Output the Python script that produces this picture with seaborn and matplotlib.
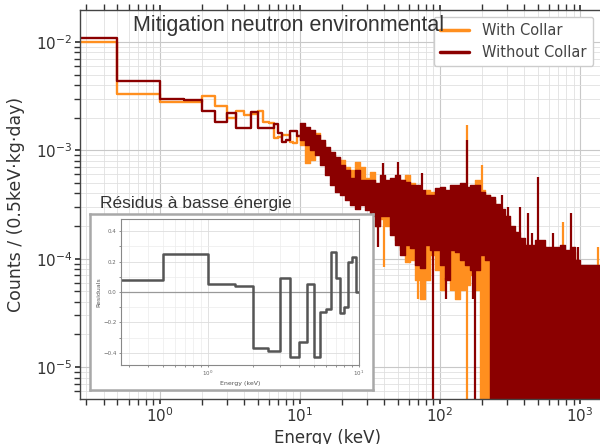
import matplotlib
matplotlib.use("Agg")
import matplotlib.pyplot as plt
import numpy as np
import pandas as pd
import seaborn as sns

# ---------------- data ----------------
series_names = ["With Collar", "Without Collar"]

# 0.5 keV bins, 0 - 10 keV (counts / (0.5 keV kg day))
low_edges = [0.0, 0.5, 1.0, 1.5, 2.0, 2.5, 3.0, 3.5, 4.0, 4.5, 5.0,
             5.5, 6.0, 6.5, 7.0, 7.5, 8.0, 8.5, 9.0, 9.5, 10.0]
without_low = [1.08e-2, 4.4e-3, 2.95e-3, 2.9e-3, 2.3e-3, 1.84e-3, 2.2e-3, 1.6e-3,
               1.6e-3, 2.25e-3, 1.6e-3, 1.6e-3, 1.6e-3, 1.75e-3, 1.45e-3, 1.2e-3,
               1.25e-3, 1.5e-3, 1.5e-3, 1.35e-3]
with_low = [9.94e-3, 3.3e-3, 2.79e-3, 2.78e-3, 3.14e-3, 2.56e-3, 1.99e-3, 2.29e-3,
            2.13e-3, 2.14e-3, 2.29e-3, 1.81e-3, 1.78e-3, 1.3e-3, 1.32e-3, 1.37e-3,
            1.38e-3, 1.2e-3, 1.16e-3, 1.35e-3]

# above 10 keV the 0.5 keV bins are too dense to resolve: envelope of the
# fluctuating histogram per energy band (upper / lower level, 0 = empty bins)
band_edges = [10.0, 10.9, 11.8, 12.8, 13.9, 15.1, 16.4, 17.8, 19.3, 21.0, 22.8,
              24.7, 26.8, 29.1, 31.6, 34.3, 37.3, 40.5, 43.9, 47.7, 51.8, 56.2,
              61.0, 66.3, 72.0, 78.1, 84.8, 92.1, 100, 109, 118, 128, 139, 151,
              164, 178, 193, 210, 228, 247, 268, 291, 316, 343, 373, 405, 439,
              477, 518, 562, 611, 663, 720, 781, 848, 921, 1000, 1086, 1179,
              1280, 1389]
without_hi = [1.79e-3, 1.64e-3, 1.54e-3, 1.38e-3, 1.25e-3, 1.07e-3, 9.6e-4, 8.7e-4,
              7.3e-4, 6.6e-4, 5.5e-4, 6.6e-4, 5.3e-4, 5.3e-4, 5.3e-4, 5.0e-4,
              5.9e-4, 5.3e-4, 5.5e-4, 5.9e-4, 5.3e-4, 5.1e-4, 4.8e-4, 4.8e-4,
              4.3e-4, 3.9e-4, 3.9e-4, 4.5e-4, 4.6e-4, 4.3e-4, 4.8e-4, 4.8e-4,
              5.0e-4, 4.6e-4, 4.8e-4, 4.8e-4, 4.1e-4, 3.9e-4, 3.7e-4, 3.2e-4,
              2.9e-4, 2.5e-4, 2.0e-4, 1.76e-4, 1.55e-4, 1.34e-4, 1.34e-4, 1.49e-4,
              1.49e-4, 1.28e-4, 1.28e-4, 1.28e-4, 1.34e-4, 1.2e-4, 1.28e-4, 9.7e-5,
              8.7e-5, 8.7e-5, 8.7e-5, 8.7e-5]
without_lo = [1.25e-3, 1.12e-3, 1.0e-3, 9.0e-4, 7.3e-4, 5.9e-4, 4.8e-4, 4.1e-4,
              3.9e-4, 3.5e-4, 3.1e-4, 2.9e-4, 3.1e-4, 2.8e-4, 2.5e-4, 2.0e-4,
              2.5e-4, 2.5e-4, 1.65e-4, 1.34e-4, 1.08e-4, 1.34e-4, 1.25e-4, 8.7e-5,
              8.2e-5, 1.34e-4, 1.2e-4, 1.2e-4, 8.7e-5, 6.3e-5, 1.2e-4, 1.15e-4,
              9.7e-5, 8.7e-5, 7.9e-5, 7.9e-5, 1.08e-4, 9.7e-5, 0, 0,
              0, 0, 0, 0, 0, 0, 0, 0, 0, 0, 0, 0, 0, 0, 0, 0, 0, 0, 0, 0]
with_hi = [1.38e-3, 1.25e-3, 1.3e-3, 1.44e-3, 1.17e-3, 1.0e-3, 9.0e-4, 8.5e-4,
           8.1e-4, 7.0e-4, 6.6e-4, 7.8e-4, 7.0e-4, 5.5e-4, 6.3e-4, 4.8e-4,
           4.8e-4, 4.8e-4, 5.1e-4, 4.8e-4, 5.3e-4, 5.9e-4, 5.0e-4, 4.1e-4,
           3.9e-4, 4.3e-4, 4.1e-4, 4.1e-4, 4.3e-4, 3.9e-4, 4.3e-4, 4.5e-4,
           4.8e-4, 4.3e-4, 4.3e-4, 5.3e-4, 4.3e-4, 3.9e-4, 3.5e-4, 3.0e-4,
           2.6e-4, 2.2e-4, 1.8e-4, 1.6e-4, 1.4e-4, 1.25e-4, 1.2e-4, 1.3e-4,
           1.3e-4, 1.15e-4, 1.15e-4, 1.15e-4, 1.2e-4, 1.1e-4, 1.15e-4, 8.7e-5,
           7.9e-5, 7.9e-5, 7.9e-5, 7.9e-5]
with_lo = [1.12e-3, 7.6e-4, 8.1e-4, 1.0e-3, 8.1e-4, 7.3e-4, 5.9e-4, 5.3e-4,
           4.8e-4, 4.3e-4, 3.9e-4, 3.5e-4, 3.5e-4, 3.1e-4, 2.8e-4, 2.0e-4,
           2.3e-4, 2.0e-4, 1.84e-4, 1.49e-4, 1.2e-4, 9.3e-5, 9.7e-5, 6.3e-5,
           4.2e-5, 6.3e-5, 1.08e-4, 7.9e-5, 5.1e-5, 7.9e-5, 5.1e-5, 4.2e-5,
           5.1e-5, 5.7e-5, 7.1e-5, 5.1e-5, 0, 0, 0, 0,
           0, 0, 0, 0, 0, 0, 0, 0, 0, 0, 0, 0, 0, 0, 0, 0, 0, 0, 0, 0]

# isolated single-bin peaks (keV, counts)
without_peak_E = [39, 50, 75, 105, 157, 248, 276, 305, 373, 425, 455, 500, 640, 860, 960]
without_peak_v = [7.6e-4, 7.8e-4, 6.2e-4, 4.6e-4, 1.25e-3, 3.5e-4, 3.87e-4, 3.0e-4,
                  3.0e-4, 2.64e-4, 1.72e-4, 5.67e-4, 1.72e-4, 2.64e-4, 1.28e-4]
with_peak_E = [157, 201, 755, 1340]
with_peak_v = [1.7e-3, 7.3e-4, 2.18e-4, 1.28e-4]
# isolated low / empty bins (keV, counts)
without_dip_E = [36, 89, 110, 172, 177]
without_dip_v = [1.28e-4, 0, 4.2e-5, 4.2e-5, 0]
with_dip_E = [40, 70, 157]
with_dip_v = [8.4e-5, 4.2e-5, 0]

# inset: residuals (without - with) / without, 0.5 keV bins 0 - 10 keV
res_edges = low_edges
residuals = [0.08, 0.25, 0.055, 0.04, -0.365, -0.39, 0.095, -0.43, -0.33, 0.05,
             -0.43, -0.13, -0.11, 0.26, 0.09, -0.14, -0.10, 0.20, 0.23, 0.0]

# ---------------- style ----------------
ORANGE = "#FF8F1F"
DARKRED = "#8B0000"
sns.set_theme(style="ticks")
plt.rcParams["font.family"] = ["DejaVu Sans"]

fig = plt.figure(figsize=(6.0, 4.44), dpi=100)
ax = fig.add_axes([80 / 600, 1 - 399 / 444, 520 / 600, 389 / 444])

# low energy steps via seaborn
def step_frame(edges, vals, name):
    return pd.DataFrame({"Energy": edges, "Counts": list(vals) + [vals[-1]], "Series": name})

low_df = pd.concat([step_frame(low_edges, with_low, series_names[0]),
                    step_frame(low_edges, without_low, series_names[1])], ignore_index=True)
sns.lineplot(data=low_df, x="Energy", y="Counts", hue="Series", hue_order=series_names,
             palette=[ORANGE, DARKRED], drawstyle="steps-post", estimator=None,
             sort=False, lw=1.7, ax=ax, legend=True)

be = np.array(band_edges)
for hi, lo, pE, pv, dE, dv, col, z in [
        (with_hi, with_lo, with_peak_E, with_peak_v, with_dip_E, with_dip_v, ORANGE, 2.2),
        (without_hi, without_lo, without_peak_E, without_peak_v, without_dip_E, without_dip_v, DARKRED, 2.4)]:
    hi_a = np.array(hi + [hi[-1]])
    lo_a = np.array(lo + [lo[-1]])
    ax.fill_between(be, lo_a, hi_a, step="post", color=col, lw=1.0, edgecolor=col, zorder=z)
    idx = np.clip(np.searchsorted(be, pE) - 1, 0, len(hi) - 1)
    ax.vlines(pE, np.array(hi)[idx], pv, color=col, lw=1.6, zorder=z + 0.05)
    idx = np.clip(np.searchsorted(be, dE) - 1, 0, len(lo) - 1)
    ax.vlines(dE, dv, np.array(lo)[idx] * 1.05, color=col, lw=1.6, zorder=z + 0.05)

ax.set_xscale("log")
ax.set_yscale("log")
ax.set_xlim(0.27, 1389)
ax.set_ylim(5.07e-6, 1.97e-2)

ax.grid(True, which="major", color="#c8c8c8", lw=0.8)
ax.grid(True, which="minor", color="#e0e0e0", lw=0.6)
ax.set_axisbelow(True)
ax.tick_params(which="both", direction="out", top=True, labelsize=11, colors="#333333")
ax.tick_params(which="major", length=3.5, pad=2)
ax.tick_params(axis="x", labeltop=False)
for s in ax.spines.values():
    s.set_color("#444444")
    s.set_linewidth(1.0)
ax.spines["right"].set_visible(False)

ax.set_xlabel("Energy (keV)", fontsize=12, color="#333333")
ax.xaxis.set_label_coords(0.475, -0.078)
ax.set_ylabel("Counts / (0.5keV·kg·day)", fontsize=12.5, color="#333333")
ax.yaxis.set_label_coords(-0.105, 0.5)

handles, labels = ax.get_legend_handles_labels()
leg = ax.legend(handles, labels, loc="upper right", fontsize=10.5, frameon=True,
                edgecolor="#cccccc", framealpha=1.0, borderaxespad=0.45,
                handlelength=2.0, handletextpad=0.9, labelspacing=0.45, borderpad=0.45)
for h in leg.get_lines():
    h.set_linewidth(2.5)
for t in leg.get_texts():
    t.set_color("#444444")
leg.set_zorder(10)

fig.text(133 / 600, 1 - 26 / 444, "Mitigation neutron environmental", fontsize=15.5,
         family=["Liberation Sans", "DejaVu Sans"], va="center", ha="left", color="#333333", zorder=12)
fig.text(100 / 600, 1 - 208 / 444, "Résidus à basse énergie", fontsize=12.5,
         family=["Liberation Sans", "DejaVu Sans"], va="baseline", ha="left", color="#333333", zorder=12)

# ---------------- inset ----------------
frame = fig.add_axes([90 / 600, 1 - 390 / 444, 283 / 600, 176 / 444], zorder=5)
frame.set_xticks([])
frame.set_yticks([])
frame.set_facecolor("white")
for s in frame.spines.values():
    s.set_color("#a8a8a8")
    s.set_linewidth(1.8)

ins = fig.add_axes([121 / 600, 1 - 365 / 444, 238 / 600, 146 / 444], zorder=6)
res_df = pd.DataFrame({"Energy": res_edges, "Residuals": residuals + [residuals[-1]]})
sns.lineplot(data=res_df, x="Energy", y="Residuals", drawstyle="steps-post", estimator=None,
             sort=False, color="#555555", lw=1.8, ax=ins)
ins.axhline(0, color="#999999", lw=0.9, zorder=1)
ins.set_xscale("log")
ins.set_xlim(0.265, 10)
ins.set_ylim(-0.48, 0.48)
ins.set_yticks([-0.4, -0.2, 0.0, 0.2, 0.4])
ins.set_yticks(np.arange(-0.4, 0.41, 0.1), minor=True)
ins.grid(True, which="major", color="#dddddd", lw=0.6)
ins.grid(True, which="minor", color="#ececec", lw=0.5)
ins.set_axisbelow(True)
ins.tick_params(which="both", labelsize=4, length=1.5, width=0.5, colors="#666666", pad=1.5)
for s in ins.spines.values():
    s.set_color("#888888")
    s.set_linewidth(0.8)
ins.set_xlabel("Energy (keV)", fontsize=4.5, color="#555555", labelpad=1.5)
ins.set_ylabel("Residuals", fontsize=4.5, color="#555555", labelpad=1.5)

fig.savefig("out.png", dpi=100)
